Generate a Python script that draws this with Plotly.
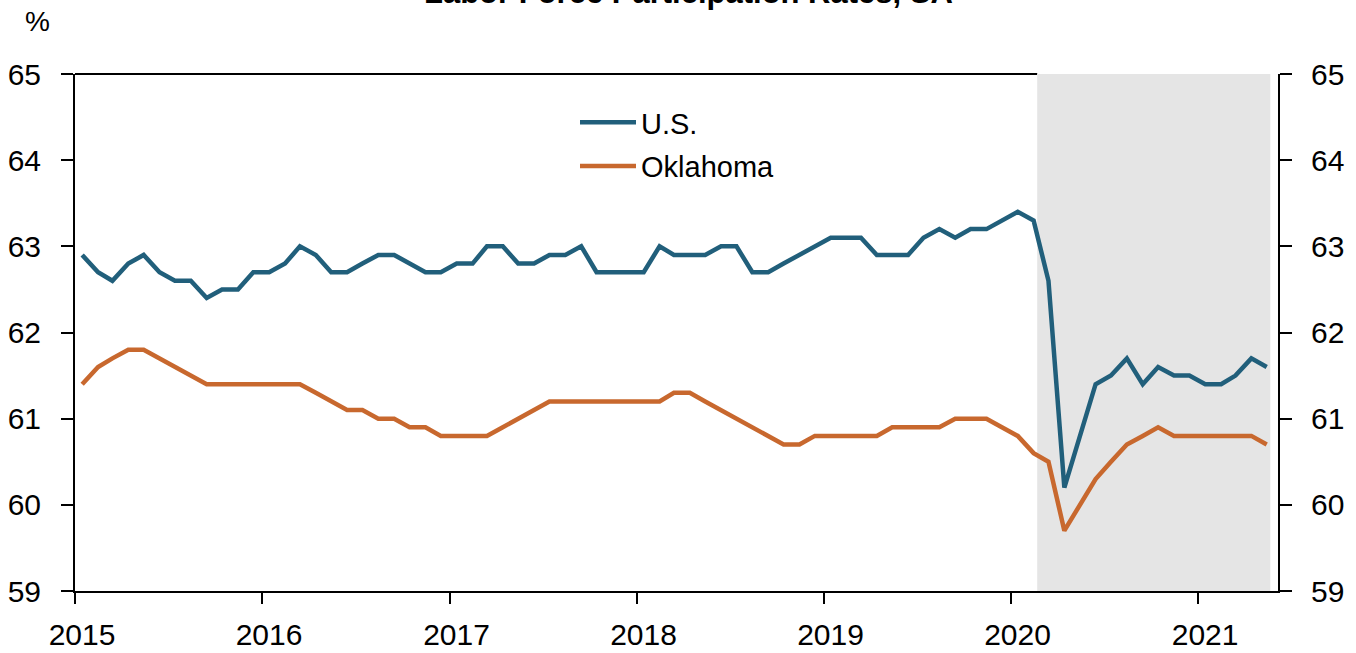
import plotly.graph_objects as go
import pandas as pd

dates = pd.date_range("2015-01-01", periods=77, freq="MS") + pd.Timedelta(days=14)

us = [62.9, 62.7, 62.6, 62.8, 62.9, 62.7, 62.6, 62.6, 62.4, 62.5, 62.5, 62.7,
      62.7, 62.8, 63.0, 62.9, 62.7, 62.7, 62.8, 62.9, 62.9, 62.8, 62.7, 62.7,
      62.8, 62.8, 63.0, 63.0, 62.8, 62.8, 62.9, 62.9, 63.0, 62.7, 62.7, 62.7,
      62.7, 63.0, 62.9, 62.9, 62.9, 63.0, 63.0, 62.7, 62.7, 62.8, 62.9, 63.0,
      63.1, 63.1, 63.1, 62.9, 62.9, 62.9, 63.1, 63.2, 63.1, 63.2, 63.2, 63.3,
      63.4, 63.3, 62.6, 60.2, 60.8, 61.4, 61.5, 61.7, 61.4, 61.6, 61.5, 61.5,
      61.4, 61.4, 61.5, 61.7, 61.6]

ok = [61.4, 61.6, 61.7, 61.8, 61.8, 61.7, 61.6, 61.5, 61.4, 61.4, 61.4, 61.4,
      61.4, 61.4, 61.4, 61.3, 61.2, 61.1, 61.1, 61.0, 61.0, 60.9, 60.9, 60.8,
      60.8, 60.8, 60.8, 60.9, 61.0, 61.1, 61.2, 61.2, 61.2, 61.2, 61.2, 61.2,
      61.2, 61.2, 61.3, 61.3, 61.2, 61.1, 61.0, 60.9, 60.8, 60.7, 60.7, 60.8,
      60.8, 60.8, 60.8, 60.8, 60.9, 60.9, 60.9, 60.9, 61.0, 61.0, 61.0, 60.9,
      60.8, 60.6, 60.5, 59.7, 60.0, 60.3, 60.5, 60.7, 60.8, 60.9, 60.8, 60.8,
      60.8, 60.8, 60.8, 60.8, 60.7]

year_ticks = ["2015", "2016", "2017", "2018", "2019", "2020", "2021"]
y_ticks = [59, 60, 61, 62, 63, 64, 65]
shade_start, shade_end = "2020-02-22", "2021-05-22"
x_range = ["2015-01-01", "2021-06-06"]

FONT = "Liberation Sans, Arial, sans-serif"
BLUE = "#215f7b"
ORANGE = "#c8682e"

fig = go.Figure()
fig.add_trace(go.Scatter(x=dates, y=us, mode="lines", name="U.S.", legendgroup="a",
                         line=dict(color=BLUE, width=4.5)))
fig.add_trace(go.Scatter(x=dates, y=ok, mode="lines", name="Oklahoma", legendgroup="b",
                         line=dict(color=ORANGE, width=4.5)))
# invisible trace to activate right axis
fig.add_trace(go.Scatter(x=dates, y=us, mode="lines", yaxis="y2",
                         line=dict(width=0), showlegend=False, hoverinfo="skip",
                         opacity=0))

fig.add_shape(type="line", xref="x", yref="paper", x0=x_range[0], x1=shade_start,
              y0=1, y1=1, line=dict(color="black", width=2), layer="below")
fig.add_shape(type="rect", xref="x", yref="paper", x0=shade_start, x1=shade_end,
              y0=0, y1=1, fillcolor="#e5e5e5", line=dict(width=0), layer="below")

axis_common = dict(showgrid=False, zeroline=False, showline=True, linecolor="black",
                   linewidth=2, ticks="outside", tickcolor="black", tickwidth=2,
                   automargin=False,
                   tickfont=dict(family=FONT, size=30, color="black"))

fig.update_layout(
    width=1356, height=653,
    margin=dict(l=75, r=78, t=74, b=62),
    plot_bgcolor="white", paper_bgcolor="white",
    showlegend=True,
    legend=dict(x=500 / 1203, y=1 - 23 / 517, xanchor="left", yanchor="top",
                font=dict(family=FONT, size=29, color="black"),
                bgcolor="rgba(0,0,0,0)", itemwidth=56, tracegroupgap=3),
    xaxis=dict(type="date", range=x_range,
               tickvals=[f"{y}-01-01" for y in year_ticks], ticktext=year_ticks,
               ticklen=11, ticklabelshift=7, ticklabelstandoff=5, **axis_common),
    yaxis=dict(range=[59, 65], tickvals=y_ticks, ticklen=12, ticklabelstandoff=14,
               **axis_common),
    yaxis2=dict(range=[59, 65], tickvals=y_ticks, ticklen=12, overlaying="y",
                side="right", ticklabelstandoff=13, **axis_common),
    annotations=[
        dict(text="<b>Labor Force Participation Rates, SA</b>", xref="paper", yref="paper",
             x=(688 - 75) / 1203, y=1 + 81 / 517, xanchor="center", yanchor="middle",
             showarrow=False, font=dict(family=FONT, size=31, color="black")),
        dict(text="%", xref="paper", yref="paper", x=(37 - 75) / 1203, y=1 + 52 / 517,
             xanchor="center", yanchor="middle", showarrow=False,
             font=dict(family=FONT, size=28, color="black")),
    ],
)

fig.write_html("out.html", config={"displayModeBar": False},
               post_script="document.body.style.margin='0';")
